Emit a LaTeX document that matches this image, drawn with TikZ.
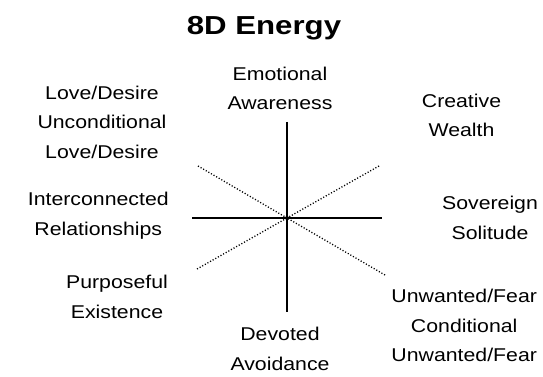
\documentclass[tikz,border=0pt]{standalone}
\usepackage{fontspec}
\setmainfont{Liberation Sans}[FakeStretch=1.15]
\newfontfamily\titlefont{Liberation Sans}[FakeStretch=1.2]
\begin{document}
\begin{tikzpicture}[x=1pt,y=1pt,
  lbl/.style={font=\fontsize{18.5}{29.5}\selectfont, align=center, anchor=base, inner sep=0pt},
  axisline/.style={line width=1.5pt},
  diagline/.style={line width=1.3pt, dash pattern=on 1.1pt off 1.9pt}]
\useasboundingbox (0,0) rectangle (543,-377);
\node[font=\titlefont\bfseries\fontsize{26}{30}\selectfont, anchor=base, inner sep=0pt] (title) at (264,-34.3) {8D Energy};
% axes
\coordinate (c) at (287,-218);
\coordinate (top) at (287,-122);
\coordinate (bot) at (287,-312);
\coordinate (lft) at (192,-218);
\coordinate (rgt) at (382,-218);
\coordinate (ul) at (198,-166);
\coordinate (ur) at (379,-166);
\coordinate (ll) at (197,-269);
\coordinate (lr) at (385,-275);
\draw[axisline] (top) -- (bot);
\draw[axisline] (lft) -- (rgt);
\draw[diagline] (ul) -- (c);
\draw[diagline] (ur) -- (c);
\draw[diagline] (ll) -- (c);
\draw[diagline] (lr) -- (c);
\fill (c) circle (2);
% labels (anchor = baseline of the last line)
\node[lbl] (emo) at (280,-110) {Emotional\\Awareness};
\node[lbl] (love) at (102,-158.3) {Love/Desire\\Unconditional\\Love/Desire};
\node[lbl] (crea) at (461.5,-136.7) {Creative\\Wealth};
\node[lbl] (inter) at (98.3,-235) {Interconnected\\Relationships};
\node[lbl] (sov) at (490,-239) {Sovereign\\Solitude};
\node[lbl] (purp) at (117,-318.3) {Purposeful\\Existence};
\node[lbl] (dev) at (280,-370) {Devoted\\Avoidance};
\node[lbl] (unw) at (464.2,-361.7) {Unwanted/Fear\\Conditional\\Unwanted/Fear};
\end{tikzpicture}
\end{document}
